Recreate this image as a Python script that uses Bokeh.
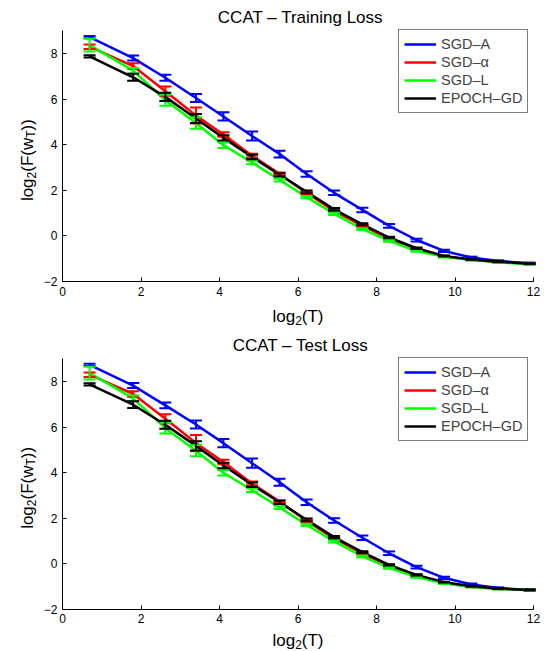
import math
from bokeh.plotting import figure
from bokeh.models import (ColumnDataSource, Whisker, TeeHead, Range1d, FixedTicker,
                          Label, Legend, LegendItem, LinearAxis)
from bokeh.layouts import column
from bokeh.embed import file_html
from bokeh.resources import INLINE

# ---------------- data ----------------
log2_T = [0.69, 1.80, 2.62, 3.40, 4.10, 4.83, 5.53, 6.22, 6.92, 7.64, 8.32, 9.02, 9.72, 10.42, 11.10, 11.90]

series_names = ["SGD–A", "SGD–α", "SGD–L", "EPOCH–GD"]
series_colors = ["#0000FF", "#FF0000", "#00FF00", "#000000"]

train_sgd_a = [8.72, 7.80, 6.94, 6.05, 5.24, 4.38, 3.59, 2.72, 1.89, 1.14, 0.44, -0.18, -0.66, -0.95, -1.10, -1.20]
train_sgd_alpha = [8.30, 7.45, 6.35, 5.28, 4.45, 3.52, 2.72, 1.88, 1.10, 0.44, -0.12, -0.58, -0.90, -1.05, -1.14, -1.22]
train_sgd_l = [8.37, 7.25, 5.95, 4.95, 3.98, 3.22, 2.45, 1.70, 0.97, 0.30, -0.22, -0.66, -0.92, -1.05, -1.16, -1.24]
train_epoch_gd = [7.88, 6.96, 6.10, 5.15, 4.30, 3.46, 2.68, 1.93, 1.17, 0.51, -0.07, -0.54, -0.88, -1.03, -1.13, -1.22]

test_sgd_a = [8.73, 7.82, 6.95, 6.11, 5.29, 4.41, 3.57, 2.69, 1.89, 1.13, 0.45, -0.16, -0.63, -0.92, -1.08, -1.16]
test_sgd_alpha = [8.30, 7.45, 6.36, 5.30, 4.46, 3.52, 2.72, 1.87, 1.10, 0.44, -0.10, -0.54, -0.84, -1.02, -1.11, -1.17]
test_sgd_l = [8.37, 7.26, 5.95, 4.96, 3.99, 3.22, 2.46, 1.70, 0.97, 0.31, -0.19, -0.60, -0.87, -1.03, -1.12, -1.17]
test_epoch_gd = [7.87, 6.98, 6.10, 5.17, 4.31, 3.46, 2.69, 1.92, 1.16, 0.50, -0.06, -0.50, -0.82, -1.00, -1.10, -1.16]

err_sgd_a = [0.05, 0.11, 0.13, 0.18, 0.18, 0.20, 0.15, 0.12, 0.10, 0.10, 0.08, 0.06, 0.05, 0.04, 0.03, 0.03]
err_sgd_alpha = [0.10, 0.12, 0.20, 0.35, 0.10, 0.08, 0.06, 0.05, 0.05, 0.04, 0.04, 0.03, 0.03, 0.02, 0.02, 0.02]
err_sgd_l = [0.28, 0.12, 0.24, 0.25, 0.12, 0.08, 0.06, 0.05, 0.05, 0.04, 0.04, 0.03, 0.03, 0.02, 0.02, 0.02]
err_epoch_gd = [0.05, 0.15, 0.18, 0.20, 0.12, 0.10, 0.07, 0.06, 0.05, 0.04, 0.03, 0.03, 0.02, 0.02, 0.02, 0.02]

x_ticks = [0, 2, 4, 6, 8, 10, 12]
y_ticks = [-2, 0, 2, 4, 6, 8]
X_MIN, X_MAX = 0, 12
Y_MIN, Y_MAX = -2, 9

FONT = "Liberation Sans"
LABEL_PX = 17
SUB_PX = 12
FIG_W = 547
PAGE_OFF = 0


def w_arial(s, px):
    widths = {"l": 222, "o": 556, "g": 556, "2": 556, "(": 333, ")": 333, "T": 611, "F": 611, "w": 722}
    return sum(widths[c] for c in s) / 1000.0 * px


def add_label(p, x, y, text, size, dx=0.0, dy=0.0, align="left", angle=0.0):
    p.add_layout(Label(x=x, y=y, x_offset=dx, y_offset=dy, text=text,
                       text_font=FONT, text_font_size=f"{size}px", text_color="black",
                       text_align=align, text_baseline="alphabetic", angle=angle))


def make_panel(title_text, values, fig_top, fig_h, ax_top, ax_bottom, title_gap, xlab_gap,
               legend_box):
    # pixel layout (page coords) -> data ranges so that the frame fills the canvas
    ax_left, ax_right = 62.0, 533.0
    xs = (ax_right - ax_left) / (X_MAX - X_MIN)
    ys = (ax_bottom - ax_top) / (Y_MAX - Y_MIN)
    x0 = X_MIN - (ax_left - PAGE_OFF) / xs
    x1 = X_MAX + (PAGE_OFF + FIG_W - ax_right) / xs
    y1 = Y_MAX + (ax_top - fig_top) / ys
    y0 = Y_MIN - (fig_top + fig_h - ax_bottom) / ys

    p = figure(width=FIG_W, height=fig_h, x_range=Range1d(x0, x1), y_range=Range1d(y0, y1),
               output_backend="svg", toolbar_location=None, title=None,
               x_axis_location=None, y_axis_location=None, min_border=0)
    p.grid.visible = False
    p.outline_line_color = None
    p.background_fill_color = "white"
    p.border_fill_color = "white"

    xaxis = LinearAxis(fixed_location=Y_MIN, bounds=(X_MIN, X_MAX),
                       ticker=FixedTicker(ticks=x_ticks))
    yaxis = LinearAxis(fixed_location=X_MIN, bounds=(Y_MIN, Y_MAX),
                       ticker=FixedTicker(ticks=y_ticks),
                       major_label_overrides={-2: "−2"})
    for ax in (xaxis, yaxis):
        ax.major_tick_in = 4
        ax.major_tick_out = 0
        ax.minor_tick_line_color = None
        ax.axis_line_color = "black"
        ax.major_tick_line_color = "black"
        ax.major_label_text_font = FONT
        ax.major_label_text_font_size = "12px"
        ax.major_label_text_color = "black"
        ax.major_label_standoff = 5
    p.add_layout(xaxis, "below")
    p.add_layout(yaxis, "left")

    items = []
    errs = [err_sgd_a, err_sgd_alpha, err_sgd_l, err_epoch_gd]
    for name, color, yv, es in zip(series_names, series_colors, values, errs):
        src = ColumnDataSource(dict(x=log2_T, y=yv,
                                    upper=[a + b for a, b in zip(yv, es)],
                                    lower=[a - b for a, b in zip(yv, es)]))
        r = p.line("x", "y", source=src, line_color=color, line_width=2.5)
        wk = Whisker(source=src, base="x", upper="upper", lower="lower",
                     line_color=color, line_width=2, level="glyph",
                     upper_head=TeeHead(size=12, line_color=color, line_width=2),
                     lower_head=TeeHead(size=12, line_color=color, line_width=2))
        p.add_layout(wk)
        items.append(LegendItem(label=name, renderers=[r]))

    lx, lbottom = legend_box
    legend = Legend(items=items,
                    location=(lx - PAGE_OFF, fig_top + fig_h - lbottom),
                    margin=0, padding=5, spacing=0,
                    glyph_width=32, glyph_height=18, label_height=18, label_standoff=5,
                    label_text_font=FONT, label_text_font_size="14.5px",
                    border_line_color="black", border_line_width=1,
                    background_fill_color="white", background_fill_alpha=1.0)
    p.add_layout(legend)

    xc = (X_MIN + X_MAX) / 2
    # title
    add_label(p, xc, Y_MAX, title_text, LABEL_PX, dx=2.5, dy=title_gap, align="center")

    # x-axis label: log_2(T)
    parts_x = [("log", LABEL_PX, 0.0), ("2", SUB_PX, -3.5), ("(T)", LABEL_PX, 0.0)]
    total = sum(w_arial(t, s) for t, s, _ in parts_x)
    cx = -total / 2
    for t, s, off in parts_x:
        add_label(p, xc, Y_MIN, t, s, dx=cx, dy=-xlab_gap + off)
        cx += w_arial(t, s)

    # y-axis label: log_2(F(w_T))
    parts_y = [("log", LABEL_PX, 0.0), ("2", SUB_PX, 3.5), ("(F(w", LABEL_PX, 0.0),
               ("T", SUB_PX, 3.5), ("))", LABEL_PX, 0.0)]
    total_y = sum(w_arial(t, s) for t, s, _ in parts_y)
    yc = (Y_MIN + Y_MAX) / 2
    cy = -4.0 - total_y / 2
    for t, s, off in parts_y:
        add_label(p, X_MIN, yc, t, s, dx=-35 + off, dy=cy, angle=math.pi / 2)
        cy += w_arial(t, s)
    return p


p1 = make_panel("CCAT – Training Loss",
                [train_sgd_a, train_sgd_alpha, train_sgd_l, train_epoch_gd],
                fig_top=0, fig_h=328, ax_top=30.25, ax_bottom=281.0,
                title_gap=13, xlab_gap=35, legend_box=(398, 113))
p2 = make_panel("CCAT – Test Loss",
                [test_sgd_a, test_sgd_alpha, test_sgd_l, test_epoch_gd],
                fig_top=328, fig_h=323, ax_top=358.25, ax_bottom=608.5,
                title_gap=13, xlab_gap=31.5, legend_box=(398, 441))

p = column(p1, p2, spacing=0)
open("out.html", "w").write(file_html(p, INLINE))
